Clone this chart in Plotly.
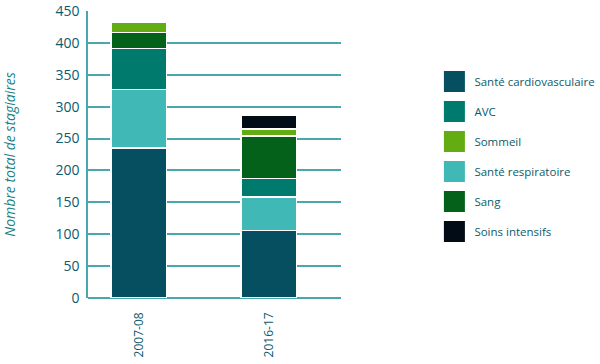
import plotly.graph_objects as go

periods = ["2007-08", "2016-17"]

# stacking order (bottom to top)
series_names = ["Santé cardiovasculaire", "Santé respiratoire", "AVC", "Sang", "Sommeil", "Soins intensifs"]
series_colors = ["#064f60", "#40b8b5", "#007a6c", "#03611a", "#63ad12", "#020c16"]
cardio = [235, 106]
respiratoire = [92, 52]
avc = [64, 29]
sang = [25, 67]
sommeil = [16, 11]
soins = [0, 21]
series_values = [cardio, respiratoire, avc, sang, sommeil, soins]

# legend order
legend_order = ["Santé cardiovasculaire", "AVC", "Sommeil", "Santé respiratoire", "Sang", "Soins intensifs"]

y_ticks = [0, 50, 100, 150, 200, 250, 300, 350, 400, 450]

FONT = "Open Sans"
TICK_COLOR = "#0d5b6b"
GRID_COLOR = "#4aa8ac"

fig = go.Figure()
for name, color, vals in zip(series_names, series_colors, series_values):
    fig.add_trace(go.Bar(
        x=periods, y=vals, name=name, legendgroup=name, showlegend=False,
        marker=dict(color=color, line=dict(color="white", width=1.5)),
        width=0.43,
    ))
# legend proxies (large square swatches)
for name, color in zip(series_names, series_colors):
    fig.add_trace(go.Scatter(
        x=[None], y=[None], mode="markers", name=name, legendgroup=name,
        legendrank=legend_order.index(name) + 1,
        marker=dict(symbol="square", size=16, color=color, line=dict(color=color, width=5)),
    ))

fig.update_layout(
    barmode="stack",
    width=600, height=364,
    margin=dict(l=88, r=259, t=11, b=66),
    paper_bgcolor="white", plot_bgcolor="white",
    font=dict(family=FONT, size=13, color=TICK_COLOR),
    legend=dict(
        xref="container", yref="container",
        x=0.724, xanchor="left", y=0.816, yanchor="top",
        font=dict(family=FONT, size=11.5, color=TICK_COLOR),
        tracegroupgap=11, traceorder="grouped",
        bgcolor="rgba(0,0,0,0)",
    ),
    xaxis=dict(
        type="category", range=[-0.39, 1.556], automargin=False,
        tickangle=-90, showgrid=False, showline=False, zeroline=False,
        tickfont=dict(family=FONT, size=12, color=TICK_COLOR),
        ticks="", ticklabelstandoff=11,
    ),
    yaxis=dict(
        range=[0, 450], tickvals=y_ticks, automargin=False,
        showgrid=True, gridcolor=GRID_COLOR, gridwidth=1.5,
        showline=True, linecolor=GRID_COLOR, linewidth=1.5,
        zeroline=True, zerolinecolor=GRID_COLOR, zerolinewidth=1.5,
        tickfont=dict(family=FONT, size=14, color=TICK_COLOR),
        ticks="", ticklabelstandoff=4,
        title=dict(text="<i>Nombre total de stagiaires</i>",
                   font=dict(family=FONT, size=14, color="#1a7f86"), standoff=38),
    ),
)

fig.write_html("out.html", config={"displayModeBar": False},
               post_script="document.body.style.margin='0';")
